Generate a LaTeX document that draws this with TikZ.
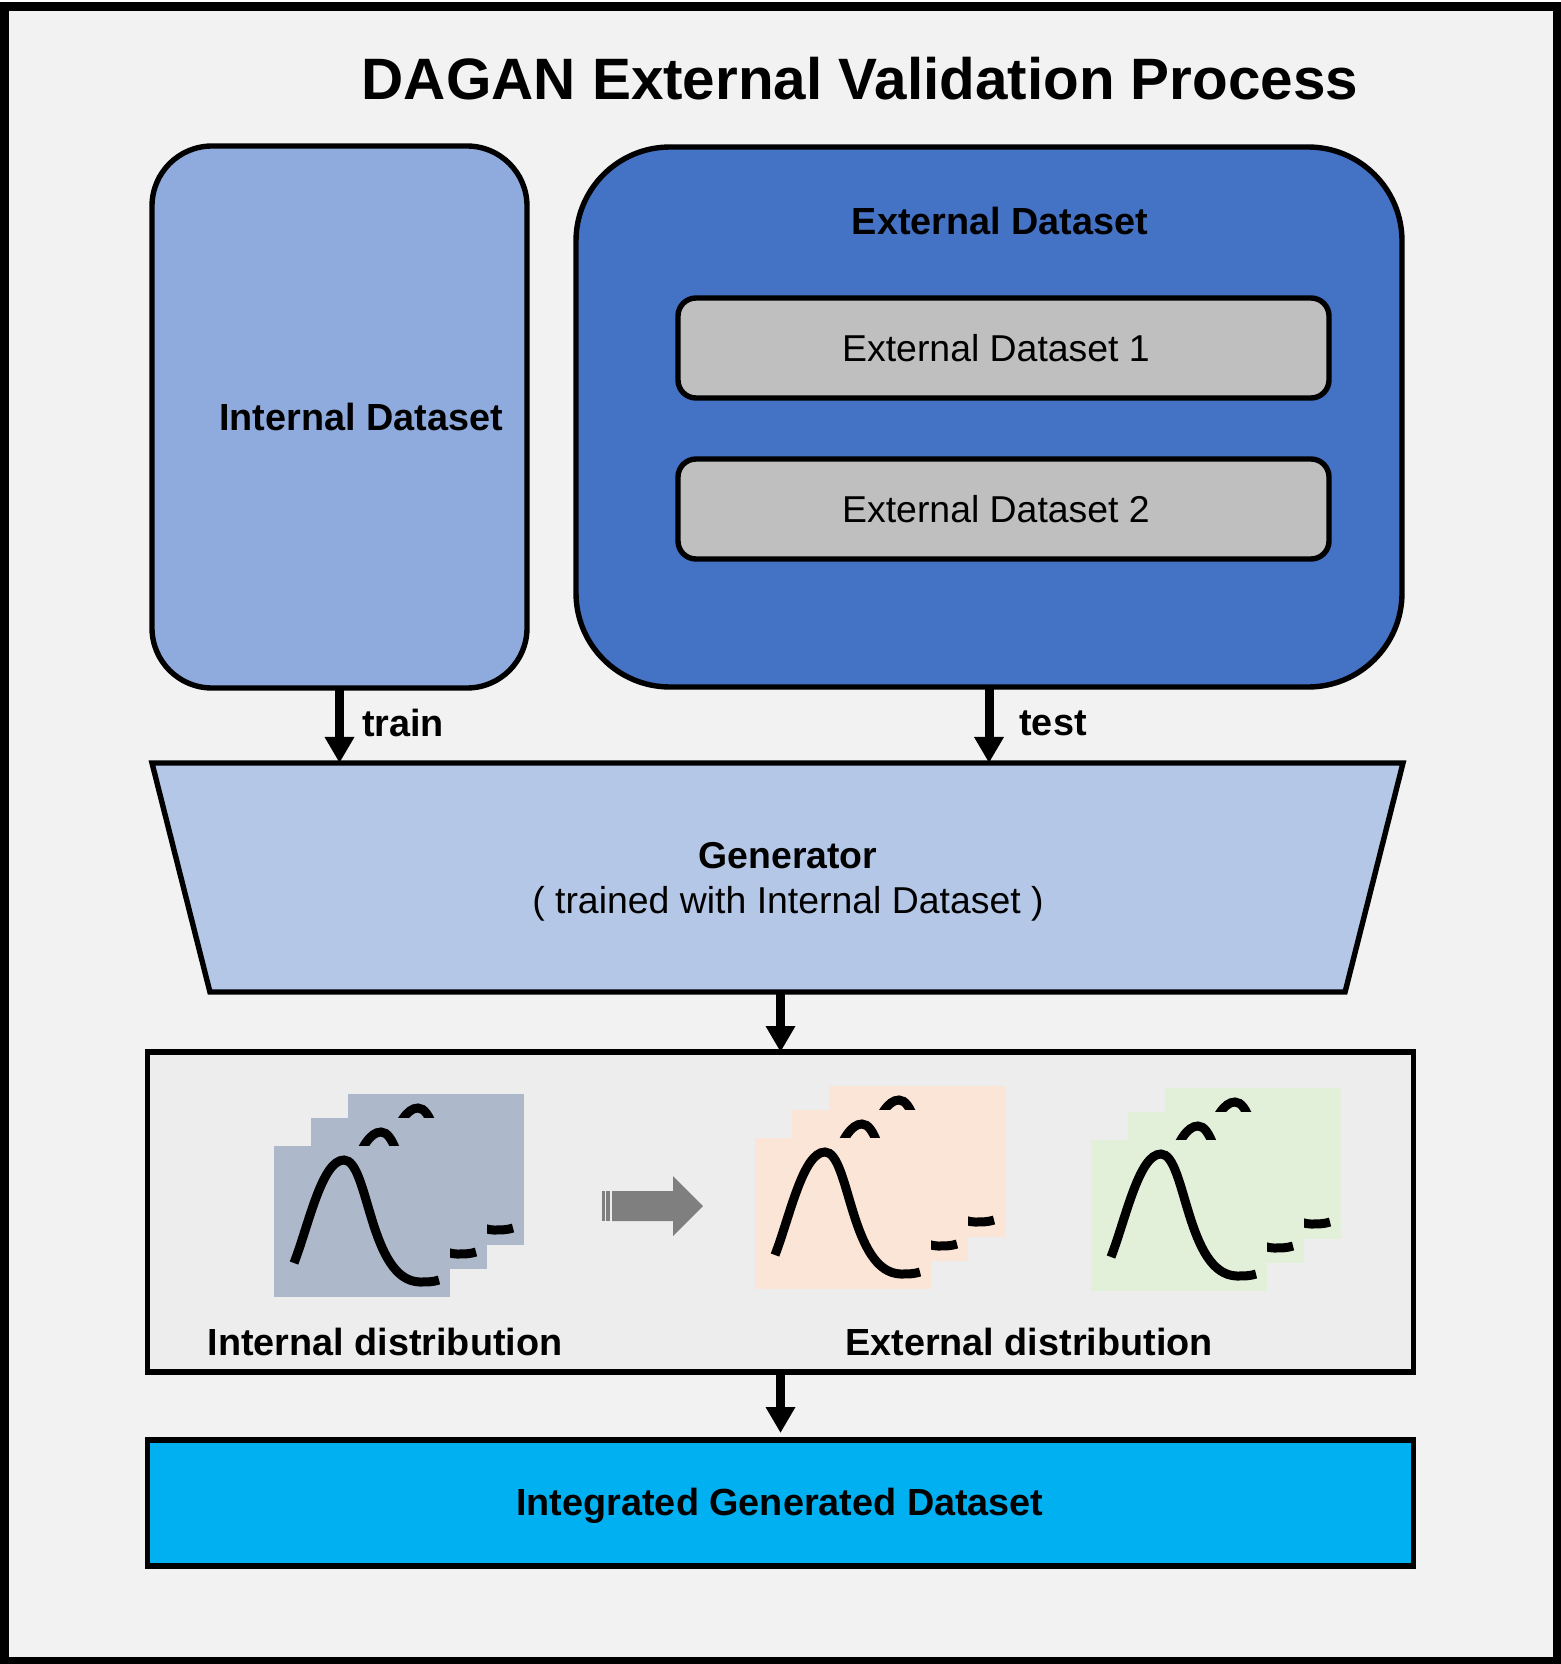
\documentclass[tikz,border=0pt]{standalone}
\usepackage{fontspec}
\setmainfont{Liberation Sans}
\usetikzlibrary{shapes.geometric, arrows.meta, positioning}
\definecolor{framegray}{HTML}{F2F2F2}
\definecolor{panelgray}{HTML}{EDEDED}
\definecolor{innergray}{HTML}{BFBFBF}
\definecolor{internalblue}{HTML}{8FAADC}
\definecolor{externalblue}{HTML}{4472C4}
\definecolor{generatorblue}{HTML}{B4C7E7}
\definecolor{outputblue}{HTML}{00B0F0}
\definecolor{sheetblue}{HTML}{ADB9CA}
\definecolor{sheetorange}{HTML}{FBE5D6}
\definecolor{sheetgreen}{HTML}{E2F0D9}
\definecolor{shiftgray}{HTML}{7F7F7F}

\begin{document}
\begin{tikzpicture}[
    x=0.5pt, y=-0.5pt,
    outer sep=0pt,
    box/.style={rectangle, draw=black, line width=2.7pt, inner sep=0pt},
    tag/.style={font=\fontsize{18.7pt}{22.8pt}\selectfont, align=center, inner sep=0pt, text=black},
    boldtag/.style={tag, font=\fontsize{18.9pt}{22.8pt}\selectfont\bfseries},
    flow/.style={-{Triangle[length=13pt, width=14pt]}, line width=4.5pt, black},
    curve/.style={line width=4.5pt, black},
    pics/sheets/.style={code={
        \foreach \dx/\dy in {74/-52, 37/-28, 0/0} {
            \fill[#1] (\dx,\dy) rectangle ++(176,151);
            \draw[curve, shift={(\dx,\dy)}] (20,117) .. controls (35,78) and (48,14) .. (70,14)
                .. controls (95,14) and (95,135) .. (146,136) .. controls (153,136) and (159,136) .. (165,134);
        }
    }}
]
\useasboundingbox (0,0) rectangle (1560,1664);

% Outer frame
\node[box, line width=4.5pt, fill=framegray, minimum width=776.25pt, minimum height=827.5pt] (frame) at (780.75,834) {};

% Title
\node[inner sep=0pt, font=\fontsize{29.2pt}{34pt}\selectfont\bfseries] (title) at (860,79) {DAGAN External Validation Process};

% Datasets
\node[box, fill=internalblue, rounded corners=30pt, minimum width=187.5pt, minimum height=271pt] (internal) at (339.5,417) {};
\node[box, fill=externalblue, rounded corners=47pt, minimum width=413pt, minimum height=270pt, right=24.5pt of internal] (external) {};
\node[box, fill=innergray, rounded corners=9pt, minimum width=325.5pt, minimum height=50pt, below=75.5pt of external.north, xshift=7.25pt] (extone) {};
\node[box, fill=innergray, rounded corners=9pt, minimum width=325.5pt, minimum height=50pt, below=30.5pt of extone] (exttwo) {};

\node[boldtag] (internaltag) at (361,417) {Internal Dataset};
\node[boldtag] (externaltag) at (1000,221) {External Dataset};
\node[tag] (extonetag) at (996,348) {External Dataset 1};
\node[tag] (exttwotag) at (996,509) {External Dataset 2};

% Generator
\node[box, fill=generatorblue, trapezium, shape border rotate=180, trapezium left angle=75.8, trapezium right angle=75.8,
    trapezium stretches body=true, inner xsep=2pt, inner ysep=57.25pt, minimum width=625.5pt] (generator) at (777.5,877.5) {};
\node[tag] (generatortag) at (788,882) {\textbf{Generator}\\( trained with Internal Dataset )};

% Distributions
\node[box, fill=panelgray, minimum width=633pt, minimum height=160pt] (panel) at (780.5,1212) {};
\pic (intsheets) at (274,1146) {sheets=sheetblue};
\pic (extsheets) at (755,1138) {sheets=sheetorange};
\pic (gensheets) at (1091,1140) {sheets=sheetgreen};
\fill[shiftgray] (612,1191) -- (673,1191) -- (673,1176) -- (703,1206) -- (673,1236) -- (673,1221) -- (612,1221) -- cycle;
\fill[shiftgray] (602,1191) rectangle (604.5,1221);
\fill[shiftgray] (606,1191) rectangle (610,1221);
\node[boldtag] (internaldist) at (385,1342) {Internal distribution};
\node[boldtag] (externaldist) at (1029,1342) {External distribution};

% Output
\node[box, fill=outputblue, minimum width=633pt, minimum height=63pt] (output) at (780.5,1503) {};
\node[boldtag] (outputtag) at (780,1506) {Integrated Generated Dataset};

% Arrows
\draw[flow] (internal.south) -- (internal.south |- generator.north);
\draw[flow] (external.south) -- (external.south |- generator.north);
\draw[flow] (panel.north |- generator.south) -- (panel.north);
\draw[flow, shorten >=3.5pt] (panel.south) -- (output.north);

% Labels
\node[boldtag] (traintag) at (403,723) {train};
\node[boldtag] (testtag) at (1053,723) {test};

\end{tikzpicture}
\end{document}
